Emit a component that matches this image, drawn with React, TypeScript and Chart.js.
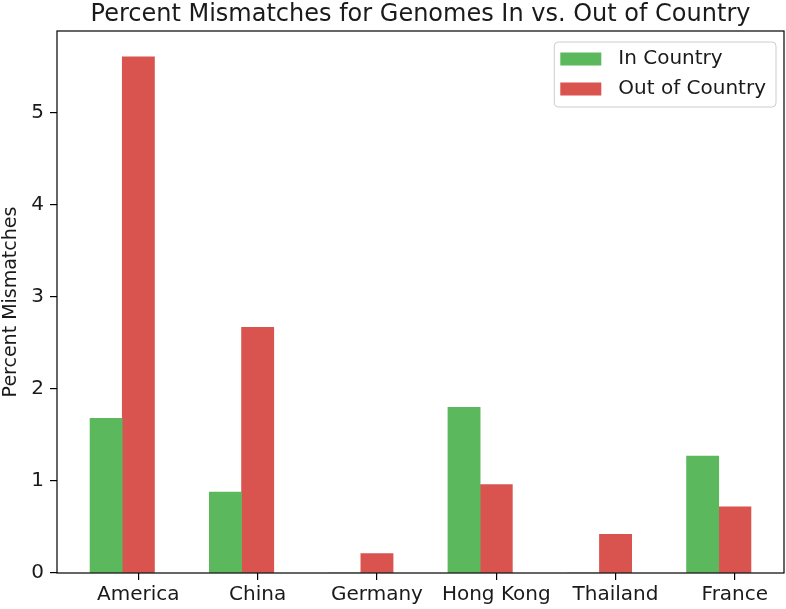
import { useEffect, useRef } from 'react';
import { Chart, registerables } from 'chart.js';

Chart.register(...registerables);

const categories = ['America', 'China', 'Germany', 'Hong Kong', 'Thailand', 'France'];
const inCountry = [1.68, 0.88, 0, 1.8, 0, 1.27];
const outOfCountry = [5.61, 2.67, 0.21, 0.96, 0.42, 0.72];
const yTicks = [0, 1, 2, 3, 4, 5];
const seriesLabels = ['In Country', 'Out of Country'];
const seriesColors = ['#5cb85c', '#d9534f'];
const titleText = 'Percent Mismatches for Genomes In vs. Out of Country';
const yAxisLabel = 'Percent Mismatches';

const BAR_W = 0.27;
const FONT = '"DejaVu Sans", sans-serif';
const TEXT = '#1a1a1a';

const titlePlugin = {
  id: 'mplTitle',
  afterDraw(chart: any) {
    const { ctx, chartArea: a } = chart;
    ctx.save();
    ctx.font = `24px ${FONT}`;
    ctx.fillStyle = TEXT;
    ctx.textAlign = 'center';
    ctx.textBaseline = 'middle';
    ctx.fillText(titleText, (a.left + a.right) / 2, 15);
    ctx.restore();
  },
};

const framePlugin = {
  id: 'mplFrame',
  afterDatasetsDraw(chart: any) {
    const { ctx, chartArea: a } = chart;
    ctx.save();
    ctx.strokeStyle = '#000';
    ctx.lineWidth = 1.2;
    ctx.strokeRect(a.left, a.top, a.right - a.left, a.bottom - a.top);
    ctx.restore();
  },
};

const legendPlugin = {
  id: 'mplLegend',
  afterDraw(chart: any) {
    const { ctx, chartArea: a } = chart;
    ctx.save();
    ctx.font = `20px ${FONT}`;
    const ds = chart.data.datasets;
    const tw = Math.max(...ds.map((d: any) => ctx.measureText(d.label).width));
    const padL = 6, patchW = 41, patchH = 13, gap = 17, padR = 10, rowH = 30;
    const w = padL + patchW + gap + tw + padR;
    const h = 65;
    const x = a.right - 8 - w;
    const y = a.top + 11;
    ctx.beginPath();
    (ctx as any).roundRect(x, y, w, h, 4);
    ctx.fillStyle = 'rgba(255,255,255,0.8)';
    ctx.fill();
    ctx.strokeStyle = '#cccccc';
    ctx.lineWidth = 1;
    ctx.stroke();
    ds.forEach((d: any, i: number) => {
      const cy = y + 17 + i * rowH;
      ctx.fillStyle = d.backgroundColor;
      ctx.fillRect(x + padL, cy - patchH / 2, patchW, patchH);
      ctx.fillStyle = TEXT;
      ctx.textAlign = 'left';
      ctx.textBaseline = 'middle';
      ctx.fillText(d.label, x + padL + patchW + gap, cy);
    });
    ctx.restore();
  },
};

export default function App() {
  const ref = useRef<HTMLCanvasElement | null>(null);

  useEffect(() => {
    if (!ref.current) return;
    const n = categories.length;
    const lo = -1.5 * BAR_W;
    const hi = n - 1 + 0.5 * BAR_W;
    const m = 0.05 * (hi - lo);
    const yMax = Math.max(...inCountry, ...outOfCountry) * 1.05;

    const chart = new Chart(ref.current, {
      type: 'bar',
      data: {
        datasets: [
          {
            label: seriesLabels[0],
            data: categories.map((_, i) => ({ x: i - BAR_W, y: inCountry[i] })),
            backgroundColor: seriesColors[0],
          },
          {
            label: seriesLabels[1],
            data: categories.map((_, i) => ({ x: i, y: outOfCountry[i] })),
            backgroundColor: seriesColors[1],
          },
        ],
      },
      plugins: [framePlugin, legendPlugin, titlePlugin],
      options: {
        animation: false,
        responsive: false,
        maintainAspectRatio: false,
        grouped: false,
        categoryPercentage: 1,
        barPercentage: 1,
        layout: { padding: { top: 31, right: 2, left: 0, bottom: 0 } },
        plugins: {
          legend: { display: false },
          title: { display: false },
          tooltip: { enabled: false },
        },
        scales: {
          x: {
            type: 'linear',
            min: lo - m,
            max: hi + m,
            offset: false,
            border: { display: false },
            grid: {
              display: true,
              offset: false,
              drawOnChartArea: false,
              drawTicks: true,
              tickLength: 7,
              color: '#000',
              lineWidth: 1.2,
            },
            afterBuildTicks: (axis: any) => {
              axis.ticks = categories.map((_, i) => ({ value: i }));
            },
            afterFit: (s: any) => {
              s.height = 36;
            },
            ticks: {
              autoSkip: false,
              maxRotation: 0,
              padding: 3,
              color: TEXT,
              font: { family: FONT, size: 20 },
              callback: (v: any) => categories[Math.round(Number(v))] ?? '',
            },
          },
          y: {
            type: 'linear',
            min: 0,
            max: yMax,
            border: { display: false },
            grid: {
              display: true,
              drawOnChartArea: false,
              drawTicks: true,
              tickLength: 7,
              color: '#000',
              lineWidth: 1.2,
            },
            afterBuildTicks: (axis: any) => {
              axis.ticks = yTicks.map((v) => ({ value: v }));
            },
            afterFit: (s: any) => {
              s.width = 57;
            },
            ticks: {
              padding: 6,
              color: TEXT,
              font: { family: FONT, size: 20 },
              callback: (v: any) => String(v),
            },
            title: {
              display: true,
              text: yAxisLabel,
              color: TEXT,
              padding: { top: 0, bottom: 0 },
              font: { family: FONT, size: 19 },
            },
          },
        },
      } as any,
    });
    return () => chart.destroy();
  }, []);

  return (
    <div style={{ position: 'fixed', left: 0, top: 0, width: 786, height: 609, background: '#fff' }}>
      <canvas ref={ref} width={786} height={609} style={{ width: 786, height: 609, display: 'block' }} />
    </div>
  );
}
